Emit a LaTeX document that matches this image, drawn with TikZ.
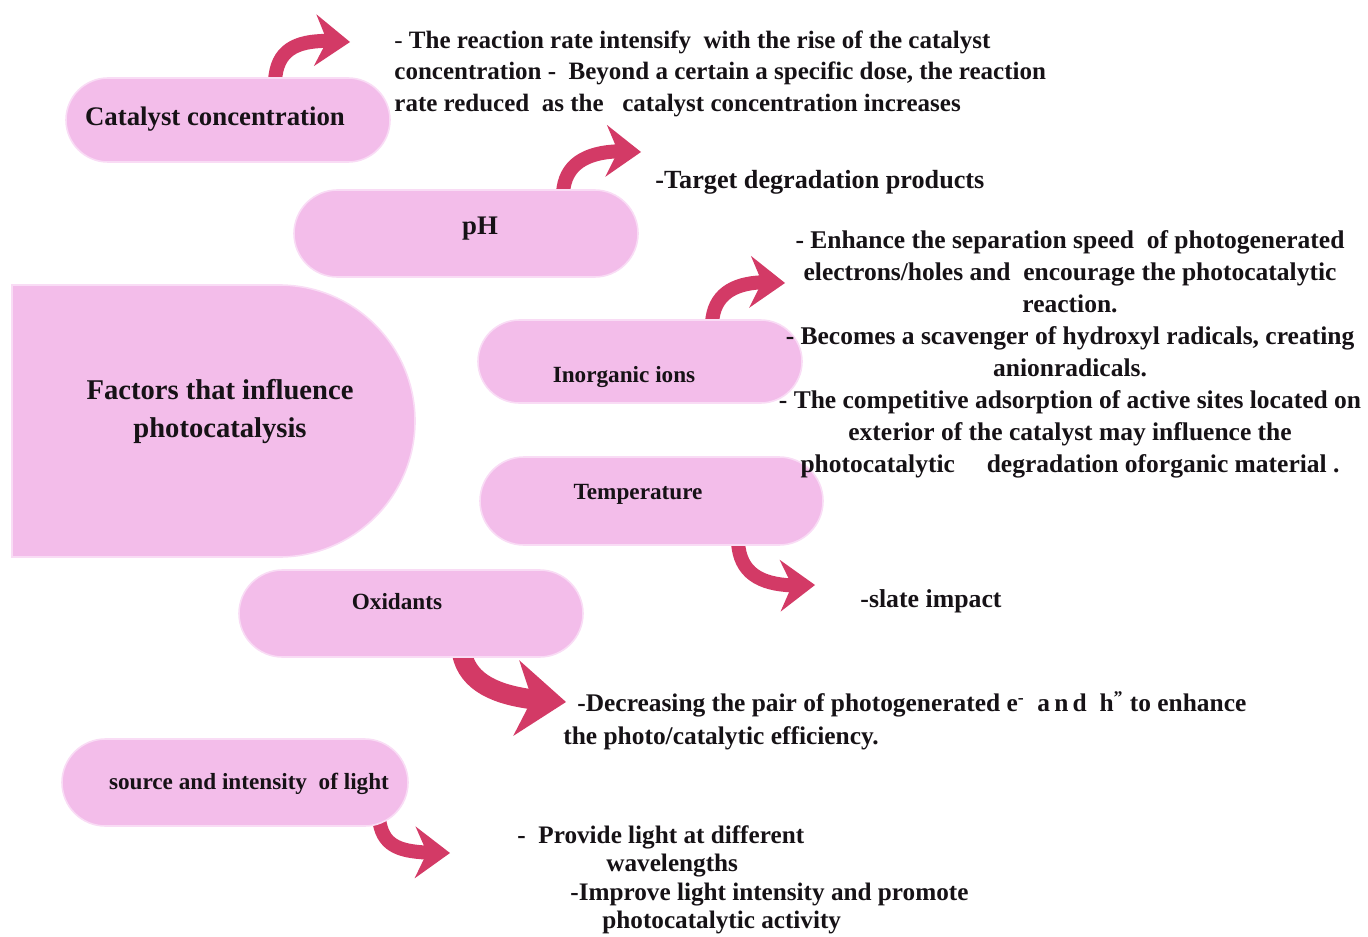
\documentclass[tikz,border=0pt]{standalone}
\usepackage{fontspec}
\setmainfont{Liberation Serif}
\usetikzlibrary{shapes.misc,arrows.meta,bending,calc}
\definecolor{boxpink}{RGB}{243,189,234}
\definecolor{boxrim}{RGB}{249,220,245}
\definecolor{arrowred}{RGB}{211,58,102}
\definecolor{ink}{RGB}{22,18,22}
\pgfdeclarelayer{bg}
\pgfsetlayers{bg,main}
\tikzset{
  pill/.style={rounded rectangle, fill=boxpink, draw=boxrim, line width=0.8pt, inner sep=0pt},
  lbl/.style={text=ink, inner sep=0pt, font=\bfseries\fontsize{11.6}{14}\selectfont},
  biglbl/.style={text=ink, inner sep=0pt, font=\bfseries\fontsize{13.4}{16}\selectfont},
  desc/.style={text=ink, inner sep=0pt, font=\bfseries\fontsize{12.5}{15.75}\selectfont},
  curvearrow/.style={draw=arrowred, line width=7pt, line cap=butt,
    -{Stealth[length=17.5pt,width=26pt,inset=6pt,line width=0pt]}},
  fatarrow/.style={draw=arrowred, line width=10pt, line cap=butt,
    -{Stealth[length=25pt,width=38pt,inset=8pt,line width=0pt]}},
}
\begin{document}
\begin{tikzpicture}[x=0.5pt,y=-0.5pt]
\useasboundingbox (0,0) rectangle (1368,936);

% boxes
\node[pill, minimum width=162pt, minimum height=42pt] (b1) at (228,120) {};
\node[pill, minimum width=172pt, minimum height=43.5pt] (b2) at (466,233.5) {};
\node[pill, rounded rectangle left arc=none, minimum width=201.5pt, minimum height=136pt] (main) at (213.5,421) {};
\node[pill, minimum width=162pt, minimum height=41.5pt] (b3) at (640,361.5) {};
\node[pill, minimum width=171.5pt, minimum height=44pt] (b4) at (651.5,501) {};
\node[pill, minimum width=172pt, minimum height=43.5pt] (b5) at (411,613.5) {};
\node[pill, minimum width=173pt, minimum height=43.5pt] (b6) at (235,782.5) {};

% box labels
\node[biglbl] (l1) at (215,119) {Catalyst concentration};
\node[biglbl] (l2) at (480,229) {pH};
\node[text=ink, inner sep=0pt, align=center, font=\bfseries\fontsize{14.3}{19}\selectfont] (lm) at (220,412) {Factors that influence\\photocatalysis};
\node[lbl] (l3) at (624,377) {Inorganic ions};
\node[lbl] (l4) at (638,494) {Temperature};
\node[lbl] (l5) at (397,602) {Oxidants};
\node[lbl] (l6) at (249,784) {source and intensity\ \ of light};

% descriptions
\node[desc, anchor=north west, align=left] (d1) at (394,30)
  {{\mdseries -} The reaction rate intensify\ \ with the rise of the catalyst\\
   concentration -\ \ Beyond a certain a specific dose, the reaction\\
   rate reduced\ \ as the\ \ \ catalyst concentration increases};
\node[desc, anchor=west, font=\bfseries\fontsize{13.1}{16}\selectfont] (d2) at (655,182) {-Target degradation products};
\node[desc, anchor=north, align=center, font=\bfseries\fontsize{12.75}{16}\selectfont] (d3) at (1070,230)
  {- Enhance the separation speed\ \ of photogenerated\\
   electrons/holes and\ \ encourage the photocatalytic\\
   reaction.\\
   - Becomes a scavenger of hydroxyl radicals, creating\\
   anionradicals.\\
   - The competitive adsorption of active sites located on\\
   exterior of the catalyst may influence the\\
   photocatalytic\ \ \ \ \ degradation oforganic material .};
\node[desc, anchor=west, font=\bfseries\fontsize{12.9}{16}\selectfont] (d4) at (860,601) {-slate impact};
\node[desc, anchor=north west, align=left, font=\bfseries\fontsize{12.7}{16.5}\selectfont] (d5) at (563,691)
  {\hspace*{7pt}-Decreasing the pair of photogenerated e\textsuperscript{-}\ \ a\,n\,d\ \ h\textsuperscript{”} to enhance\\
   the photo/catalytic efficiency.};
\node[desc, anchor=north west, align=left, font=\bfseries\fontsize{12.6}{14.3}\selectfont] (d6) at (517,825)
  {-\ \ Provide light at different\\
   \hspace*{44.5pt}wavelengths\\
   \hspace*{26.5pt}-Improve light intensity and promote\\
   \hspace*{42.5pt}photocatalytic activity};

% arrow ends
\coordinate (e1) at (350,42);
\coordinate (e2) at (641,152);
\coordinate (e3) at (785,283);
\coordinate (e4) at (815,585);
\coordinate (e5) at (566,702);
\coordinate (e6) at (450,853);

\begin{pgfonlayer}{bg}
\draw[curvearrow] ($(b1.north)+(47,4)$) .. controls +(2,-38) and +(-45,-4) .. (e1);
\draw[curvearrow] ($(b2.north)+(97,4)$) .. controls +(2,-35) and +(-45,-4) .. (e2);
\draw[curvearrow] ($(b3.north)+(72,4)$) .. controls +(2,-35) and +(-42,-4) .. (e3);
\draw[curvearrow] ($(b4.south)+(86.5,-4)$) .. controls +(2,38) and +(-45,3) .. (e4);
\draw[fatarrow] ($(b5.south)+(51,-4)$) .. controls +(8,38) and +(-50,-2) .. (e5);
\draw[curvearrow] ($(b6.south)+(144,-8)$) .. controls +(4,32) and +(-45,0) .. (e6);
\end{pgfonlayer}
\end{tikzpicture}
\end{document}
